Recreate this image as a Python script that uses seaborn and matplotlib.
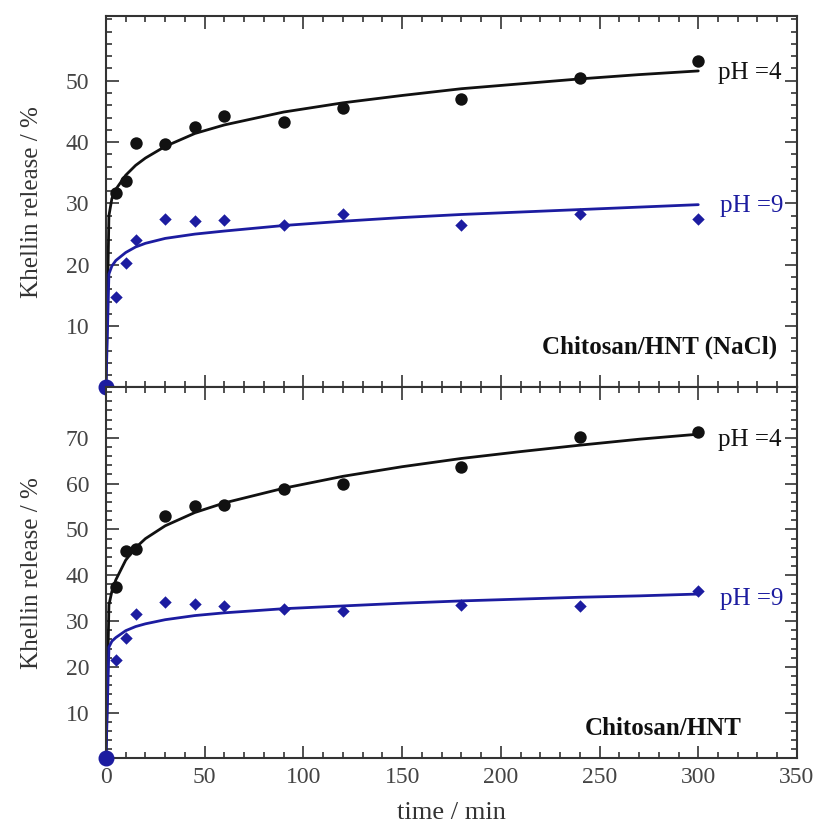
import numpy as np
import pandas as pd
import seaborn as sns
import matplotlib
matplotlib.use("Agg")
import matplotlib.pyplot as plt
from matplotlib.ticker import MultipleLocator

t_exp = [0, 5, 10, 15, 30, 45, 60, 90, 120, 180, 240, 300]
nacl_ph4 = [0, 31.7, 33.7, 39.8, 39.7, 42.5, 44.3, 43.2, 45.5, 47.0, 50.4, 53.2]
nacl_ph9 = [0, 14.8, 20.3, 24.1, 27.5, 27.1, 27.3, 26.5, 28.2, 26.5, 28.3, 27.4]
hnt_ph4 = [0, 37.4, 45.4, 45.8, 52.9, 55.2, 55.4, 58.8, 59.9, 63.7, 70.1, 71.2]
hnt_ph9 = [0, 21.6, 26.3, 31.6, 34.1, 33.8, 33.2, 32.7, 32.3, 33.4, 33.3, 36.5]

# curvas de ajuste
t_fit = [0, 1.5, 3, 5, 10, 15, 20, 30, 45, 60, 90, 120, 150, 180, 210, 240, 270, 300]
nacl_ph4_fit = [0, 28.0, 30.8, 32.3, 34.6, 36.2, 37.4, 39.3, 41.4, 42.8, 44.9, 46.4,
                47.6, 48.7, 49.5, 50.3, 51.0, 51.6]
nacl_ph9_fit = [0, 18.5, 19.8, 20.7, 22.0, 22.9, 23.5, 24.3, 25.0, 25.5, 26.4, 27.1,
                27.7, 28.2, 28.6, 29.0, 29.4, 29.8]
hnt_ph4_fit = [0, 33.5, 36.5, 39.0, 43.3, 46.0, 48.0, 50.8, 53.7, 55.8, 59.0, 61.6,
               63.7, 65.5, 67.0, 68.4, 69.7, 70.8]
hnt_ph9_fit = [0, 24.3, 25.6, 26.4, 27.9, 28.8, 29.4, 30.3, 31.2, 31.8, 32.7, 33.3,
               33.9, 34.4, 34.8, 35.2, 35.5, 35.9]

paneles = ['Chitosan/HNT (NaCl)', 'Chitosan/HNT']
ylims = [60.6, 81]
yticks = [[10, 20, 30, 40, 50], [10, 20, 30, 40, 50, 60, 70]]
pos_ph4 = [51.3, 69.6]
pos_ph9 = [29.6, 34.9]

negro = '#111111'
azul = '#1c1ca0'

sns.set_style("ticks")
plt.rcParams['font.family'] = ['Liberation Serif', 'DejaVu Serif']
plt.rcParams['axes.edgecolor'] = '#333333'
plt.rcParams['axes.linewidth'] = 1.5

fig = plt.figure(figsize=(8.17, 8.23), dpi=100)
ax1 = fig.add_axes([0.1297, 0.5292, 0.8458, 0.4517])
ax2 = fig.add_axes([0.1297, 0.0784, 0.8458, 0.4508], sharex=ax1)

datos = [(nacl_ph4, nacl_ph9, nacl_ph4_fit, nacl_ph9_fit),
         (hnt_ph4, hnt_ph9, hnt_ph4_fit, hnt_ph9_fit)]

for i, ax in enumerate([ax1, ax2]):
    y4, y9, f4, f9 = datos[i]
    sns.lineplot(x=t_fit, y=f4, ax=ax, color=negro, linewidth=2.0, sort=False)
    sns.lineplot(x=t_fit, y=f9, ax=ax, color=azul, linewidth=2.0, sort=False)
    sns.scatterplot(x=t_exp[1:], y=y4[1:], ax=ax, color=negro, marker='o', s=80,
                    edgecolor=negro, linewidth=0, zorder=4)
    sns.scatterplot(x=t_exp[1:], y=y9[1:], ax=ax, color=azul, marker='D', s=40,
                    edgecolor=azul, linewidth=0, zorder=4)
    # punto en el origen
    ax.scatter([t_exp[0]], [y9[0]], color=azul, s=110, zorder=6, clip_on=False)

    ax.set_xlim(0, 350)
    ax.set_ylim(0, ylims[i])
    ax.set_yticks(yticks[i])
    ax.xaxis.set_major_locator(MultipleLocator(50))
    ax.xaxis.set_minor_locator(MultipleLocator(10))
    ax.yaxis.set_minor_locator(MultipleLocator(2))
    ax.tick_params(which='both', direction='in', top=True, right=True,
                   colors='#333333', labelsize=17, width=1.2)
    ax.tick_params(which='major', length=9)
    ax.tick_params(which='minor', length=4.5)
    ax.tick_params(axis='y', labelcolor='#444444', pad=12)
    ax.tick_params(axis='x', labelcolor='#444444', pad=6)
    ax.set_ylabel('Khellin release / %', fontsize=18, color='#333333', labelpad=16)

    ax.text(310, pos_ph4[i], 'pH =4', fontsize=18, color=negro, va='center')
    ax.text(311, pos_ph9[i], 'pH =9', fontsize=18, color=azul, va='center')
    ax.text(340 if i == 0 else 322, 6.5, paneles[i], fontsize=18, fontweight='bold',
            color=negro, ha='right', va='center')

plt.setp(ax1.get_xticklabels(), visible=False)
ax1.set_xlabel('')
ax2.set_xlabel('time / min', fontsize=19, color='#333333', labelpad=10)

fig.savefig('out.png', dpi=100)
